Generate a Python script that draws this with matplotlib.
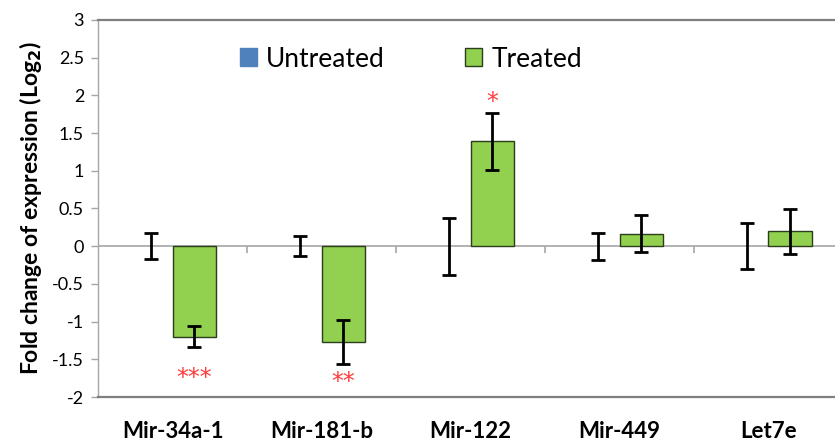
import matplotlib
matplotlib.use("Agg")
import matplotlib.pyplot as plt
from matplotlib.patches import Patch
import numpy as np

categories = ["Mir-34a-1", "Mir-181-b", "Mir-122", "Mir-449", "Let7e"]
untreated = [0.0, 0.0, 0.0, 0.0, 0.0]
untreated_err = [0.17, 0.135, 0.38, 0.18, 0.305]
treated = [-1.20, -1.27, 1.39, 0.165, 0.195]
treated_err = [0.14, 0.295, 0.38, 0.245, 0.295]
stars = ["***", "**", "*", "", ""]
star_y = [-1.75, -1.80, 1.91, None, None]
yticks = [-2, -1.5, -1, -0.5, 0, 0.5, 1, 1.5, 2, 2.5, 3]
ytick_labels = ["-2", "-1.5", "-1", "-0.5", "0", "0.5", "1", "1.5", "2", "2.5", "3"]

plt.rcParams['font.family'] = ['Lato', 'DejaVu Sans']

fig = plt.figure(figsize=(8.35, 4.4), dpi=100)
ax = fig.add_axes([98/835, 1-397/440, 745/835, 377/440])

x = np.arange(len(categories))
w = 0.29
off = 0.145
blue = "#4f81bd"
green = "#92d050"

ax.bar(x - off, untreated, w, color=blue, linewidth=0, zorder=2)
ax.bar(x + off, treated, w, color=green, edgecolor="#2b3d1a", linewidth=1.0, zorder=2)
ax.errorbar(x - off, untreated, yerr=untreated_err, fmt="none", ecolor="black",
            elinewidth=2, capsize=5, capthick=2, zorder=3)
ax.errorbar(x + off, treated, yerr=treated_err, fmt="none", ecolor="black",
            elinewidth=2, capsize=5, capthick=2, zorder=3)

for xi, s, sy in zip(x, stars, star_y):
    if s:
        ax.text(xi + off, sy, s, color="#ff3b3b", ha="center", va="center",
                fontsize=17, family="DejaVu Sans")

ax.axhline(0, color="#a6a6a6", linewidth=1.2, zorder=1)
ax.vlines(np.arange(len(categories) - 1) + 0.5, -0.09, 0, color="#a6a6a6", linewidth=1.2, zorder=1)

ax.set_xlim(-0.5, len(categories) - 0.5)
ax.set_ylim(-2, 3)
ax.set_yticks(yticks)
ax.set_yticklabels(ytick_labels, fontsize=13)
ax.set_xticks(x)
ax.set_xticklabels(categories, fontsize=16, fontweight="bold")
ax.tick_params(axis="x", length=0, pad=17)
ax.tick_params(axis="y", length=5, width=1, color="#a6a6a6", pad=5)

for side in ["top", "bottom"]:
    ax.spines[side].set_color("#7f7f7f")
    ax.spines[side].set_linewidth(1.6)
ax.spines["left"].set_color("#a6a6a6")
ax.spines["left"].set_linewidth(1.0)
ax.spines["right"].set_visible(False)

ax.set_ylabel(r"Fold change of expression (Log$_\mathbf{2}$)", fontsize=16.5, fontweight="bold", labelpad=6)

handles = [Patch(facecolor=blue, edgecolor=blue, label="Untreated"),
           Patch(facecolor=green, edgecolor="#2b3d1a", label="Treated")]
ax.legend(handles=handles, loc="center left", bbox_to_anchor=((229-98)/745, (397-59)/377),
          ncol=2, frameon=False, fontsize=19, handlelength=0.65, handleheight=0.65,
          handletextpad=0.35, columnspacing=3.05, borderaxespad=0)

fig.savefig("out.png", dpi=100)
